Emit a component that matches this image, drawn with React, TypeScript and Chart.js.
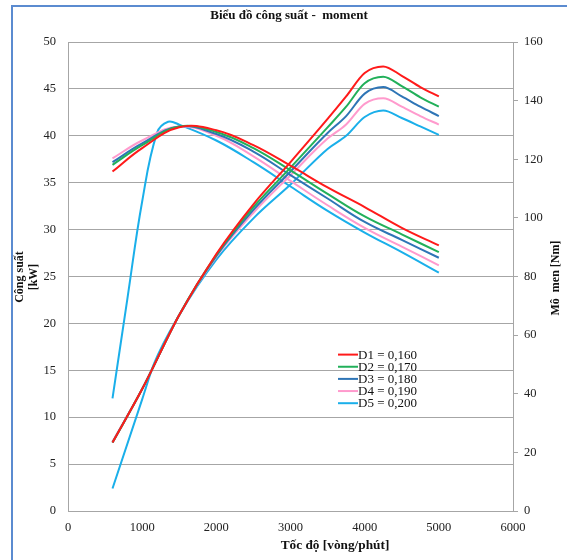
import React, { useEffect, useRef } from "react";
import { Chart, registerables } from "chart.js";

Chart.register(...registerables);

// ---- Data ----
const seriesNames = ["D1 = 0,160", "D2 = 0,170", "D3 = 0,180", "D4 = 0,190", "D5 = 0,200"];
const seriesColors = ["#FF1A1A", "#22B05A", "#2E75B6", "#FF9ACD", "#1AAFEA"];

// Power (kW) vs speed (rpm) – left axis
const rpmPower = [600, 1000, 1500, 2000, 2500, 3000, 3500, 3750, 4000, 4250, 4500, 4750, 5000];
const powerD1 = [7.3, 13.0, 20.9, 27.4, 32.7, 37.2, 41.8, 44.2, 46.7, 47.4, 46.4, 45.2, 44.2];
const powerD2 = [7.3, 13.0, 20.9, 27.3, 32.4, 36.6, 40.9, 43.1, 45.6, 46.3, 45.3, 44.1, 43.1];
const powerD3 = [7.3, 13.0, 20.9, 27.2, 32.1, 36.2, 40.3, 42.1, 44.5, 45.2, 44.2, 43.1, 42.1];
const powerD4 = [7.4, 13.0, 20.9, 27.1, 31.8, 35.8, 39.7, 41.2, 43.4, 44.0, 43.1, 42.1, 41.2];
const rpmPowerD5 = [600, 1000, 1160, 1500, 2000, 2500, 3000, 3500, 3750, 4000, 4250, 4500, 4750, 5000];
const powerD5 = [2.4, 11.9, 15.7, 20.9, 26.8, 31.2, 34.8, 38.6, 40.0, 42.0, 42.7, 41.9, 41.0, 40.1];

// Torque (Nm) vs speed (rpm) – right axis
const rpmTorque = [600, 1000, 1500, 2000, 2500, 3000, 3500, 4000, 4500, 5000];
const torqueD1 = [115.8, 123.8, 130.9, 129.9, 124.8, 117.8, 110.4, 103.7, 96.6, 90.6];
const torqueD2 = [118.1, 124.8, 131.2, 129.3, 123.8, 116.2, 108.2, 100.5, 94.4, 88.3];
const torqueD3 = [119.0, 125.4, 131.2, 128.6, 122.6, 114.6, 106.6, 98.6, 92.5, 86.4];
const torqueD4 = [120.3, 126.4, 131.2, 128.0, 121.0, 112.6, 104.3, 96.6, 90.2, 83.8];
const rpmTorqueD5 = [600, 800, 1000, 1200, 1350, 1500, 2000, 2500, 3000, 3500, 4000, 4500, 5000];
const torqueD5 = [38.4, 72.3, 105.6, 129.0, 132.8, 131.8, 126.4, 119.0, 110.7, 102.4, 95.0, 88.3, 81.3];

const powerRpms = [rpmPower, rpmPower, rpmPower, rpmPower, rpmPowerD5];
const powerSets = [powerD1, powerD2, powerD3, powerD4, powerD5];
const torqueRpms = [rpmTorque, rpmTorque, rpmTorque, rpmTorque, rpmTorqueD5];
const torqueSets = [torqueD1, torqueD2, torqueD3, torqueD4, torqueD5];

const chartTitle = "Biểu đồ công suất -  moment";
const xTitle = "Tốc độ [vòng/phút]";
const yLeftTitle = ["Công suất", "[kW]"];
const yRightTitle = "Mô  men [Nm]";

const SERIF = "'Liberation Serif', 'Times New Roman', serif";

const decorPlugin = {
  id: "decor",
  beforeDraw(chart: any) {
    const ctx = chart.ctx;
    ctx.save();
    ctx.fillStyle = "#ffffff";
    ctx.fillRect(0, 0, chart.width, chart.height);
    ctx.restore();
  },
  afterDraw(chart: any) {
    const ctx = chart.ctx;
    ctx.save();
    // outer frame
    ctx.strokeStyle = "#5B8BD0";
    ctx.lineWidth = 2;
    ctx.beginPath();
    ctx.moveTo(12, chart.height + 2);
    ctx.lineTo(12, 6);
    ctx.lineTo(chart.width + 2, 6);
    ctx.stroke();

    ctx.fillStyle = "#111";
    ctx.textAlign = "center";
    ctx.textBaseline = "middle";
    // title
    ctx.font = `bold 13px ${SERIF}`;
    ctx.fillText(chartTitle, 289, 16);
    // x title
    ctx.font = `bold 13.3px ${SERIF}`;
    ctx.fillText(xTitle, 335, 546);
    // left title
    ctx.font = `bold 12px ${SERIF}`;
    ctx.save();
    ctx.translate(20, 277);
    ctx.rotate(-Math.PI / 2);
    ctx.fillText(yLeftTitle[0], 0, 0);
    ctx.restore();
    ctx.save();
    ctx.translate(34, 277);
    ctx.rotate(-Math.PI / 2);
    ctx.fillText(yLeftTitle[1], 0, 0);
    ctx.restore();
    // right title
    ctx.save();
    ctx.translate(556, 278);
    ctx.rotate(-Math.PI / 2);
    ctx.fillText(yRightTitle, 0, 0);
    ctx.restore();

    // legend
    ctx.font = `13px ${SERIF}`;
    ctx.textAlign = "left";
    seriesNames.forEach((name, i) => {
      const y = 354.6 + i * 12.15;
      ctx.strokeStyle = seriesColors[i];
      ctx.lineWidth = 2;
      ctx.beginPath();
      ctx.moveTo(338, y);
      ctx.lineTo(358, y);
      ctx.stroke();
      ctx.fillStyle = "#111";
      ctx.fillText(name, 358, y + 0.5);
    });
    ctx.restore();
  },
};

export default function App() {
  const canvasRef = useRef<HTMLCanvasElement | null>(null);

  useEffect(() => {
    if (!canvasRef.current) return;
    const datasets: any[] = [];
    for (let i = 0; i < 5; i++) {
      datasets.push({
        label: seriesNames[i] + " P",
        data: powerRpms[i].map((x, j) => ({ x, y: powerSets[i][j] })),
        yAxisID: "yP",
        borderColor: seriesColors[i],
        backgroundColor: seriesColors[i],
        borderWidth: 2,
        pointRadius: 0,
        cubicInterpolationMode: "monotone",
        fill: false,
      });
      datasets.push({
        label: seriesNames[i] + " T",
        data: torqueRpms[i].map((x, j) => ({ x, y: torqueSets[i][j] })),
        yAxisID: "yT",
        borderColor: seriesColors[i],
        backgroundColor: seriesColors[i],
        borderWidth: 2,
        pointRadius: 0,
        tension: 0.4,
        fill: false,
      });
    }
    const tickFont = { family: SERIF, size: 12.5 };
    const plain = (v: any) => String(v);
    const chart = new Chart(canvasRef.current, {
      type: "line",
      data: { datasets },
      plugins: [decorPlugin],
      options: {
        animation: false,
        responsive: false,
        maintainAspectRatio: false,
        devicePixelRatio: 1,
        layout: { padding: { top: 42, left: 0, right: 0, bottom: 0 } },
        plugins: { legend: { display: false }, tooltip: { enabled: false }, title: { display: false } },
        scales: {
          x: {
            type: "linear",
            min: 0,
            max: 6000,
            ticks: { stepSize: 1000, font: tickFont, color: "#222", padding: 9, maxRotation: 0, callback: plain },
            grid: { display: false, drawTicks: false },
            border: { display: true, color: "#A6A6A6", width: 1 },
            afterFit: (s: any) => {
              s.height = 49;
            },
          },
          yP: {
            type: "linear",
            position: "left",
            min: 0,
            max: 50,
            ticks: { stepSize: 5, font: tickFont, color: "#222", padding: 12, callback: plain },
            grid: { color: "#A6A6A6", drawTicks: false, lineWidth: 1 },
            border: { display: true, color: "#A6A6A6", width: 1 },
            afterFit: (s: any) => {
              s.width = 68;
            },
          },
          yT: {
            type: "linear",
            position: "right",
            min: 0,
            max: 160,
            ticks: { stepSize: 20, font: tickFont, color: "#222", padding: 6, callback: plain },
            grid: { drawOnChartArea: false, drawTicks: true, tickLength: 5, color: "#A6A6A6" },
            border: { display: true, color: "#A6A6A6", width: 1 },
            afterFit: (s: any) => {
              s.width = 54;
            },
          },
        },
      } as any,
    });
    return () => chart.destroy();
  }, []);

  return (
    <div style={{ position: "fixed", left: 0, top: 0, width: 567, height: 560, background: "#fff" }}>
      <canvas ref={canvasRef} width={567} height={560} style={{ width: 567, height: 560, display: "block" }} />
    </div>
  );
}
